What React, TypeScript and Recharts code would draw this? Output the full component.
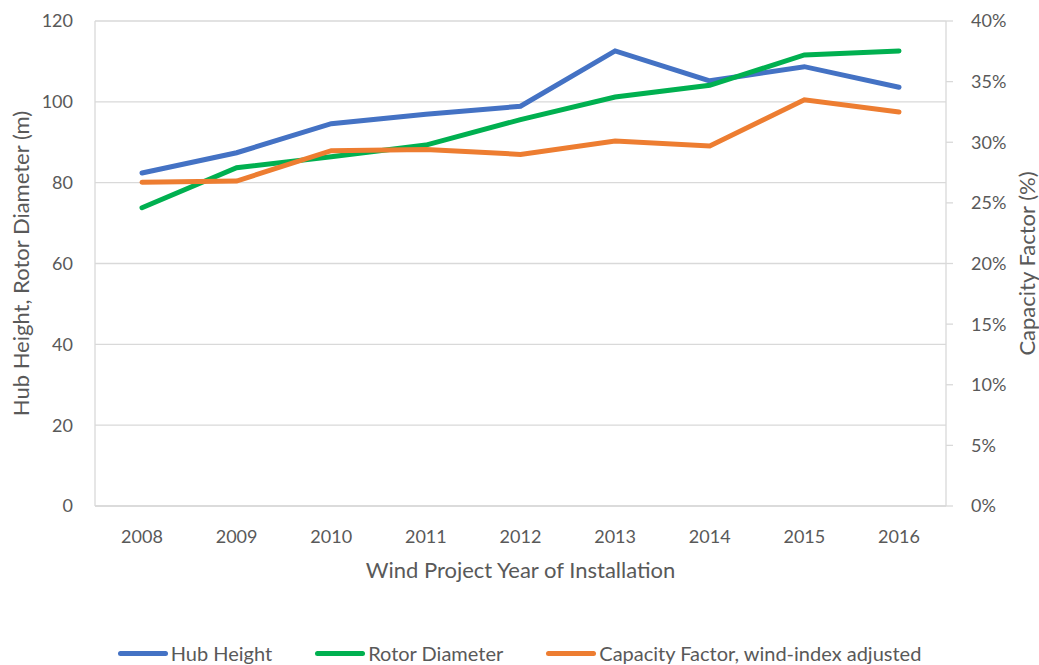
import {
  LineChart,
  Line,
  XAxis,
  YAxis,
  CartesianGrid,
  Legend,
} from "recharts";

const years = ["2008", "2009", "2010", "2011", "2012", "2013", "2014", "2015", "2016"];
const hubHeight = [82.4, 87.4, 94.6, 96.9, 98.9, 112.6, 105.2, 108.7, 103.6];
const rotorDiameter = [73.8, 83.7, 86.4, 89.3, 95.6, 101.2, 104.1, 111.6, 112.6];
const capacityFactor = [0.267, 0.268, 0.293, 0.294, 0.29, 0.301, 0.297, 0.335, 0.325];

const leftTicks = [0, 20, 40, 60, 80, 100, 120];
const rightTicks = [0, 0.05, 0.1, 0.15, 0.2, 0.25, 0.3, 0.35, 0.4];

const data = years.map((year, i) => ({
  year,
  hub: hubHeight[i],
  rotor: rotorDiameter[i],
  cf: capacityFactor[i],
}));

const legendItems = [
  { name: "Hub Height", color: "#4472C4" },
  { name: "Rotor Diameter", color: "#00B050" },
  { name: "Capacity Factor, wind-index adjusted", color: "#ED7D31" },
];

const FONT = "Lato, 'Liberation Sans', sans-serif";
const GRID = "#D9D9D9";
const TEXT = "#595959";

function LegendContent() {
  return (
    <div
      style={{
        display: "flex",
        justifyContent: "center",
        alignItems: "center",
        fontFamily: FONT,
        fontSize: 20,
        lineHeight: "24px",
        color: TEXT,
        gap: 43,
      }}
    >
      {legendItems.map((item) => (
        <div key={item.name} style={{ display: "flex", alignItems: "center" }}>
          <span
            style={{
              display: "inline-block",
              width: 50,
              height: 5,
              borderRadius: 3,
              background: item.color,
              marginRight: 3,
            }}
          />
          <span>{item.name}</span>
        </div>
      ))}
    </div>
  );
}

export default function App() {
  return (
    <div style={{ position: "absolute", left: 0, top: 0, background: "#fff", width: 1039, height: 665 }}>
      <LineChart
        width={1039}
        height={665}
        data={data}
        margin={{ top: 21, right: 0, left: 0, bottom: 0 }}
        style={{ fontFamily: FONT }}
      >
        <CartesianGrid
          yAxisId="left"
          stroke={GRID}
          strokeWidth={1.3}
          horizontal={true}
          vertical={false}
        />
        <XAxis
          dataKey="year"
          padding={{ left: 47, right: 47 }}
          height={159}
          axisLine={{ stroke: GRID, strokeWidth: 1.3 }}
          tickLine={false}
          tickSize={0}
          tickMargin={24}
          tick={{ fill: TEXT, fontSize: 18 }}
          label={{
            value: "Wind Project Year of Installation",
            position: "insideTop",
            offset: 56,
            fill: TEXT,
            fontSize: 22,
          }}
        />
        <YAxis
          yAxisId="left"
          orientation="left"
          width={95}
          domain={[0, 120]}
          ticks={leftTicks}
          axisLine={{ stroke: GRID, strokeWidth: 1.3 }}
          tickLine={false}
          tickSize={0}
          tickMargin={22}
          tick={{ fill: TEXT, fontSize: 18 }}
          label={{
            value: "Hub Height, Rotor Diameter (m)",
            angle: -90,
            position: "insideLeft",
            offset: 21,
            fill: TEXT,
            fontSize: 22,
            style: { textAnchor: "middle" },
          }}
        />
        <YAxis
          yAxisId="right"
          orientation="right"
          width={93}
          domain={[0, 0.4]}
          ticks={rightTicks}
          tickFormatter={(v: number) => `${Math.round(v * 100)}%`}
          axisLine={{ stroke: GRID, strokeWidth: 1.3 }}
          tickLine={{ stroke: GRID, strokeWidth: 1.3 }}
          tickSize={7}
          tickMargin={18}
          tick={{ fill: TEXT, fontSize: 18, textAnchor: "start" }}
          label={{
            value: "Capacity Factor (%)",
            angle: -90,
            position: "insideRight",
            offset: 12,
            fill: TEXT,
            fontSize: 22,
            style: { textAnchor: "middle" },
          }}
        />
        <Legend
          layout="horizontal"
          verticalAlign="middle"
          align="center"
          wrapperStyle={{ top: 641, left: 0, width: 1039 }}
          content={<LegendContent />}
        />
        <Line
          yAxisId="left"
          type="linear"
          dataKey="hub"
          name="Hub Height"
          stroke="#4472C4"
          strokeWidth={5}
          strokeLinecap="round"
          dot={false}
          isAnimationActive={false}
        />
        <Line
          yAxisId="left"
          type="linear"
          dataKey="rotor"
          name="Rotor Diameter"
          stroke="#00B050"
          strokeWidth={5}
          strokeLinecap="round"
          dot={false}
          isAnimationActive={false}
        />
        <Line
          yAxisId="right"
          type="linear"
          dataKey="cf"
          name="Capacity Factor, wind-index adjusted"
          stroke="#ED7D31"
          strokeWidth={5}
          strokeLinecap="round"
          dot={false}
          isAnimationActive={false}
        />
      </LineChart>
    </div>
  );
}
